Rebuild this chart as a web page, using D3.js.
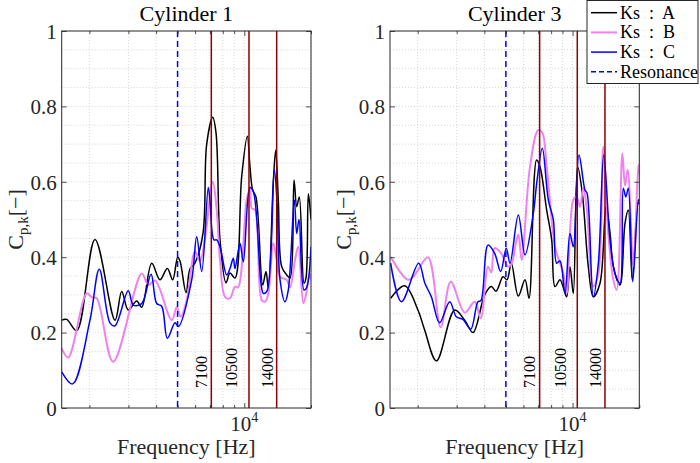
<!DOCTYPE html>
<meta charset="utf-8">
<style>
body { margin: 0; background: #fff; }
.grid line { stroke: #c4c4c4; stroke-width: 0.7; stroke-dasharray: 1,2; }
.axis path { display: none; }
.axis line { stroke: #262626; stroke-width: 0.8; }
.axis text { fill: #262626; font-family: "Liberation Serif", serif; font-size: 21px; }
.frame { fill: none; stroke: #262626; stroke-width: 1; }
.series { fill: none; stroke-linejoin: round; }
</style>
<body>
<script src="https://cdn.jsdelivr.net/npm/d3@7"></script>
<script>

var width = 700,
    height = 463;

var titles = ["Cylinder 1", "Cylinder 3"];
var seriesNames = ["Ks : A", "Ks : B", "Ks : C"];
var seriesColors = ["#000000", "#ee82ee", "#0000ff"];
var seriesWidths = [1.5, 2, 1.5];

var xDomain = [1500, 20000];
var xMinor = [2000, 3000, 4000, 5000, 6000, 7000, 8000, 9000, 20000];
var xMajor = [10000];
var yTicks = [0, 0.2, 0.4, 0.6, 0.8, 1];

var resonance = 5000;
var modes = [7100, 10500, 14000];
var modeLabelAt = [6800, 9300, 13500];

// cylinder 1 : [frequency Hz, Cp,k]
var cyl1_A = [[1500,0.233],[1580,0.235],[1753,0.205],[2120,0.447],[2610,0.233],[2798,0.309],[2995,0.26],
  [3270,0.284],[3444,0.267],[3821,0.384],[4165,0.34],[4495,0.37],[4753,0.34],[5006,0.40],[5128,0.39],
  [5458,0.306],[5690,0.369],[5993,0.385],[6513,0.464],[6767,0.70],[7204,0.771],[7455,0.73],[7770,0.446],
  [8270,0.332],[8620,0.358],[9080,0.345],[9734,0.614],[10320,0.721],[10610,0.64],[10910,0.578],[11290,0.56],
  [12110,0.326],[12530,0.362],[12840,0.317],[13510,0.596],[13860,0.684],[14240,0.552],[14753,0.375],
  [15539,0.353],[16080,0.345],[16770,0.605],[17241,0.534],[17710,0.56],[18600,0.331],[18990,0.345],
  [19460,0.568],[20000,0.5]];
var cyl1_B = [[1500,0.158],[1605,0.134],[1945,0.304],[2048,0.294],[2158,0.291],[2560,0.123],[3444,0.357],
  [3690,0.326],[3955,0.338],[4704,0.233],[4955,0.267],[5165,0.242],[5498,0.286],[5993,0.415],[6310,0.39],
  [6650,0.45],[7204,0.60],[7509,0.525],[7770,0.393],[8190,0.295],[8620,0.291],[9080,0.322],[9370,0.32],
  [10254,0.552],[10610,0.583],[10801,0.53],[11180,0.525],[11984,0.286],[12400,0.282],[12800,0.30],
  [13510,0.437],[14005,0.393],[14500,0.348],[15539,0.34],[16080,0.32],[16940,0.393],[17530,0.428],
  [18470,0.278],[18990,0.30],[19660,0.357],[20000,0.34]];
var cyl1_C = [[1500,0.096],[1680,0.064],[2012,0.233],[2217,0.368],[2480,0.225],[2610,0.218],[2995,0.311],
  [3157,0.273],[3444,0.277],[3795,0.355],[4025,0.277],[4240,0.27],[4495,0.185],[4870,0.226],[5040,0.216],
  [5791,0.34],[6100,0.454],[6425,0.362],[6875,0.585],[6995,0.552],[7300,0.446],[7509,0.446],[7770,0.428],
  [8331,0.353],[8620,0.37],[8920,0.397],[9080,0.37],[9565,0.437],[9900,0.388],[10610,0.585],[10990,0.574],
  [11895,0.331],[12190,0.304],[12660,0.31],[13650,0.631],[14050,0.55],[14500,0.34],[15270,0.282],
  [15800,0.313],[16820,0.552],[17241,0.463],[17660,0.50],[18600,0.313],[19131,0.32],[20000,0.428]];

// cylinder 3
var cyl3_A = [[1510,0.291],[1748,0.324],[2005,0.26],[2150,0.207],[2430,0.125],[2938,0.26],[3260,0.233],
  [3555,0.20],[4013,0.30],[4297,0.322],[4513,0.31],[4855,0.348],[5060,0.34],[5290,0.384],[5690,0.297],
  [6100,0.34],[6360,0.291],[6880,0.658],[7128,0.64],[7640,0.525],[8050,0.446],[8331,0.322],[8773,0.34],
  [9080,0.32],[9400,0.295],[9734,0.375],[10075,0.304],[10540,0.64],[11060,0.57],[11775,0.375],
  [12400,0.295],[13297,0.331],[14150,0.534],[14753,0.464],[15270,0.375],[16368,0.326],[17241,0.49],
  [17840,0.525],[18600,0.34],[19800,0.552],[20000,0.55]];
var cyl3_B = [[1510,0.401],[1808,0.34],[1938,0.353],[2226,0.40],[2540,0.214],[2818,0.335],[3260,0.253],
  [3615,0.282],[3850,0.238],[4152,0.375],[4297,0.36],[4450,0.424],[4765,0.41],[5112,0.375],[5315,0.384],
  [5560,0.44],[5700,0.46],[5893,0.393],[6425,0.64],[6995,0.737],[7300,0.73],[7640,0.64],[8331,0.428],
  [8773,0.384],[9080,0.357],[9400,0.304],[10075,0.552],[10430,0.56],[10801,0.534],[11180,0.583],
  [11580,0.53],[12400,0.322],[13070,0.357],[13760,0.693],[14500,0.46],[15270,0.34],[15810,0.313],
  [16770,0.675],[17241,0.59],[17725,0.631],[18800,0.375],[19800,0.645],[20000,0.62]];
var cyl3_C = [[1510,0.384],[1690,0.282],[2020,0.384],[2158,0.33],[2305,0.295],[2510,0.226],[2790,0.282],
  [2988,0.242],[3200,0.235],[3470,0.209],[3740,0.282],[3860,0.285],[4152,0.432],[4450,0.41],[4737,0.362],
  [5020,0.424],[5219,0.384],[5690,0.512],[6100,0.406],[6650,0.516],[6900,0.60],[7300,0.689],[7770,0.552],
  [8190,0.499],[8475,0.384],[8773,0.39],[9242,0.304],[9734,0.463],[10075,0.428],[10690,0.671],
  [11377,0.578],[11620,0.57],[12400,0.295],[13070,0.384],[13820,0.671],[14753,0.446],[15539,0.357],
  [16368,0.331],[16940,0.583],[17390,0.56],[17840,0.583],[18680,0.335],[19800,0.547],[20000,0.54]];

var panels = [
  {left: 61.7, title: titles[0], data: [cyl1_A, cyl1_B, cyl1_C]},
  {left: 390, title: titles[1], data: [cyl3_A, cyl3_B, cyl3_C]}
];

var plotTop = 31, pw = 249.3, ph = 377;

var svg = d3.select("body").append("svg")
    .attr("width", width)
    .attr("height", height)
    .style("font-family", "'Liberation Serif', serif");

var x = d3.scaleLog().domain(xDomain).range([0, pw]);
var y = d3.scaleLinear().domain([0, 1]).range([ph, 0]);

var line = d3.line()
    .x(function(d) { return x(d[0]); })
    .y(function(d) { return y(d[1]); })
    .curve(d3.curveCatmullRom.alpha(0.5));

panels.forEach(function(p, pi) {

  var g = svg.append("g").attr("transform", "translate(" + p.left + "," + plotTop + ")");

  g.append("clipPath").attr("id", "clip" + pi)
    .append("rect").attr("width", pw).attr("height", ph);

  // grid
  var grid = g.append("g").attr("class", "grid");
  grid.selectAll(".gx").data(xMinor.concat(xMajor)).enter().append("line")
      .attr("x1", function(d) { return x(d); }).attr("x2", function(d) { return x(d); })
      .attr("y1", 0).attr("y2", ph);
  grid.selectAll(".gy").data(d3.range(1, 20).map(function(i) { return i / 20; })).enter().append("line")
      .attr("x1", 0).attr("x2", pw)
      .attr("y1", function(d) { return y(d); }).attr("y2", function(d) { return y(d); });

  // curves
  var plot = g.append("g").attr("clip-path", "url(#clip" + pi + ")");
  p.data.forEach(function(s, si) {
    plot.append("path")
        .attr("class", "series")
        .attr("d", line(s))
        .attr("stroke", seriesColors[si])
        .attr("stroke-width", seriesWidths[si]);
  });

  // resonance
  plot.append("line")
      .attr("x1", x(resonance)).attr("x2", x(resonance))
      .attr("y1", 0).attr("y2", ph)
      .attr("stroke", "#0000ff").attr("stroke-width", 1.5)
      .attr("stroke-dasharray", "6,4");

  // modes
  plot.selectAll(".mode").data(modes).enter().append("line")
      .attr("x1", function(d) { return x(d); }).attr("x2", function(d) { return x(d); })
      .attr("y1", 0).attr("y2", ph)
      .attr("stroke", "#8f0000").attr("stroke-width", 1.5);

  g.selectAll(".modelabel").data(modes).enter().append("text")
      .attr("transform", function(d, i) { return "translate(" + x(modeLabelAt[i]) + "," + (ph - 20) + ") rotate(-90)"; })
      .attr("font-size", 16)
      .attr("fill", "#000")
      .text(function(d) { return d; });

  // axes
  g.append("g").attr("class", "axis").attr("transform", "translate(0," + ph + ")")
      .call(d3.axisBottom(x).tickValues(xMinor).tickSizeInner(-3).tickSizeOuter(0).tickFormat(""));
  g.append("g").attr("class", "axis").attr("transform", "translate(0," + ph + ")")
      .call(d3.axisBottom(x).tickValues(xMajor).tickSizeInner(-5).tickSizeOuter(0).tickFormat(""));
  g.append("g").attr("class", "axis")
      .call(d3.axisTop(x).tickValues(xMinor).tickSizeInner(-3).tickSizeOuter(0).tickFormat(""));
  g.append("g").attr("class", "axis")
      .call(d3.axisTop(x).tickValues(xMajor).tickSizeInner(-5).tickSizeOuter(0).tickFormat(""));
  g.append("g").attr("class", "axis")
      .call(d3.axisLeft(y).tickValues(yTicks).tickSizeInner(-5).tickSizeOuter(0).tickPadding(5)
        .tickFormat(function(d) { return (d === 0 || d === 1) ? d : d.toFixed(1); }))
    .selectAll("text").attr("dy", "0.35em");
  g.append("g").attr("class", "axis").attr("transform", "translate(" + pw + ",0)")
      .call(d3.axisRight(y).tickValues(yTicks).tickSizeInner(-5).tickSizeOuter(0).tickFormat(""));

  g.append("rect").attr("class", "frame").attr("width", pw).attr("height", ph);

  // 10^4 label
  var xl = g.append("text")
      .attr("x", x(10000)).attr("y", ph + 23)
      .attr("text-anchor", "middle").attr("font-size", 21).attr("fill", "#262626");
  xl.append("tspan").text("10");
  xl.append("tspan").attr("font-size", 14).attr("dy", -9).text("4");

  g.append("text")
      .attr("x", pw / 2).attr("y", ph + 46)
      .attr("text-anchor", "middle").attr("font-size", 22).attr("fill", "#262626")
      .text("Frequency [Hz]");

  g.append("text")
      .attr("x", pw / 2).attr("y", -10)
      .attr("text-anchor", "middle").attr("font-size", 22).attr("fill", "#000")
      .text(p.title);

  var yl = g.append("text")
      .attr("transform", "translate(-39," + (ph / 2) + ") rotate(-90)")
      .attr("text-anchor", "middle").attr("font-size", 22).attr("fill", "#262626");
  yl.append("tspan").text("C");
  yl.append("tspan").attr("font-size", 15).attr("dy", 5).text("p,k");
  yl.append("tspan").attr("dy", -5).text("[\u2212]");
});

// legend
var lg = svg.append("g").attr("transform", "translate(587,0)");
lg.append("rect").attr("x", 0).attr("y", 0.5).attr("width", 111).attr("height", 83)
    .attr("fill", "#fff").attr("stroke", "#262626").attr("stroke-width", 1);
var items = seriesNames.map(function(n, i) { return {name: n, color: seriesColors[i], w: seriesWidths[i], dash: null}; });
items.push({name: "Resonance", color: "#0000ff", w: 1.5, dash: "5,3"});
items.forEach(function(it, i) {
  var cy = 12.7 + i * 19.7;
  lg.append("line").attr("x1", 4).attr("x2", 30).attr("y1", cy).attr("y2", cy)
      .attr("stroke", it.color).attr("stroke-width", it.w)
      .attr("stroke-dasharray", it.dash);
  lg.append("text").attr("x", 33).attr("y", cy + 6)
      .attr("font-size", 18).attr("fill", "#000")
      .attr("xml:space", "preserve")
      .text(it.name.replace(" : ", "  :  "));
});

</script>
